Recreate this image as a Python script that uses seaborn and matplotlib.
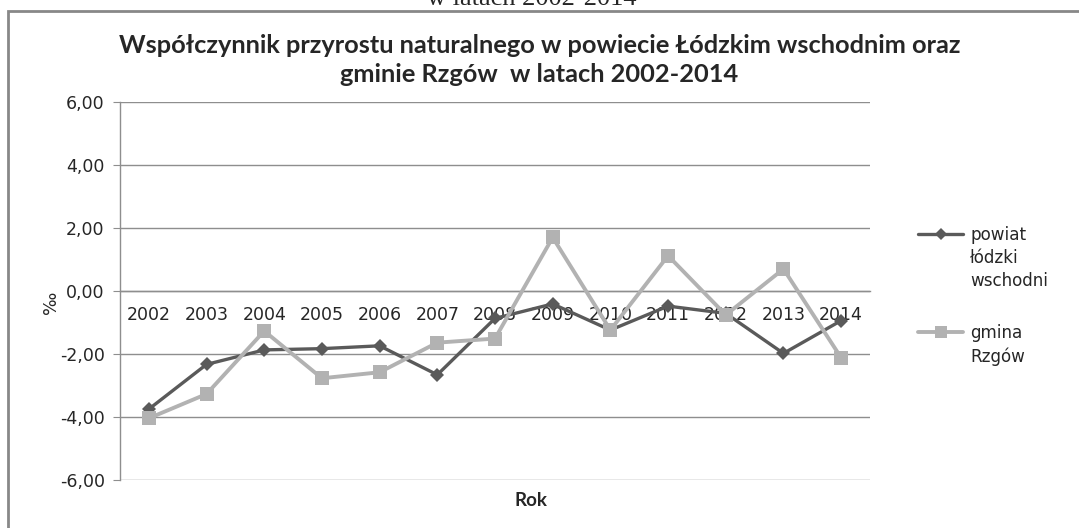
import pandas as pd
import matplotlib
matplotlib.use('Agg')
import matplotlib.pyplot as plt
import seaborn as sns
from matplotlib.lines import Line2D
from matplotlib.patches import Rectangle

# --- dane ---
lata = ['2002', '2003', '2004', '2005', '2006', '2007', '2008',
        '2009', '2010', '2011', '2012', '2013', '2014']
powiat = [-3.75, -2.33, -1.87, -1.83, -1.74, -2.66, -0.87,
          -0.41, -1.24, -0.48, -0.71, -1.98, -0.94]
gmina = [-4.04, -3.27, -1.27, -2.77, -2.58, -1.64, -1.51,
         1.70, -1.24, 1.12, -0.76, 0.70, -2.12]
serie = ['powiat łódzki wschodni', 'gmina Rzgów']
y_ticks = [-6, -4, -2, 0, 2, 4, 6]

df = pd.DataFrame({
    'Rok': lata * 2,
    'wartosc': powiat + gmina,
    'seria': [serie[0]] * len(lata) + [serie[1]] * len(lata),
})

sns.set_style("white")
plt.rcParams['font.family'] = ['DejaVu Sans']

ciemny = '#5a5a5a'
jasny = '#b2b2b2'
siatka = '#8e8e8e'

fig = plt.figure(figsize=(10.79, 5.28), dpi=100)
ax = fig.add_axes([120 / 1079, 1 - 480 / 528, 750 / 1079, 378 / 528])

sns.lineplot(data=df, x='Rok', y='wartosc', hue='seria', style='seria',
             palette={serie[0]: ciemny, serie[1]: jasny},
             markers={serie[0]: 'D', serie[1]: 's'}, dashes=False,
             sort=False, ax=ax, legend=False)
for ln, lw, ms in zip(ax.lines, [2.4, 2.8], [7.5, 10.5]):
    ln.set_linewidth(lw)
    ln.set_markersize(ms)
    ln.set_markeredgewidth(0)
# gmina na wierzchu jak w oryginale
ax.lines[1].set_zorder(3)
ax.lines[0].set_zorder(2)

ax.set_xlim(-0.5, len(lata) - 0.5)
ax.set_ylim(-6, 6)
ax.set_yticks(y_ticks)
ax.set_yticklabels([f'{v:.2f}'.replace('.', ',') for v in y_ticks])
ax.yaxis.grid(True, color=siatka, linewidth=1)
ax.set_axisbelow(True)

for s in ['top', 'right']:
    ax.spines[s].set_visible(False)
ax.spines['left'].set_color(siatka)
ax.spines['left'].set_linewidth(1)
ax.spines['bottom'].set_position(('data', 0))
ax.spines['bottom'].set_color(siatka)
ax.spines['bottom'].set_linewidth(1)

ax.tick_params(axis='y', direction='out', length=5, color=siatka,
               labelsize=12.5, pad=6, left=True)
ax.tick_params(axis='x', length=0, labelsize=12.5, pad=11)

ax.set_xlabel('')
ax.set_ylabel('‰', fontsize=12.5)
ax.yaxis.set_label_coords(-0.08, 0.47)

fig.text(0.492, 0.052, 'Rok', ha='center', va='center', fontsize=13.5,
         fontweight='bold', family='Lato')

fig.text(0.5, 0.886,
         'Współczynnik przyrostu naturalnego w powiecie Łódzkim wschodnim oraz\n'
         'gminie Rzgów  w latach 2002-2014',
         ha='center', va='center', fontsize=18.3, fontweight='bold',
         family='Lato', linespacing=1.3)

# ucięty podpis nad ramką
fig.text(532 / 1079, 1 - 5 / 528, 'w latach 2002-2014', ha='center',
         va='baseline', fontsize=19, family='Liberation Serif')

# ramka wykresu
fig.patches.append(Rectangle((8 / 1079, -0.05), 1.2, 1 - 11 / 528 + 0.05,
                             transform=fig.transFigure, fill=False,
                             edgecolor='#888888', linewidth=2))

# legenda
pusty = Line2D([], [], color='none')
uchwyty = [
    Line2D([], [], color=ciemny, lw=2.4, marker='D', markersize=6, markeredgewidth=0),
    pusty, pusty, pusty,
    Line2D([], [], color=jasny, lw=2.8, marker='s', markersize=9, markeredgewidth=0),
    pusty,
]
etykiety = ['powiat', 'łódzki', 'wschodni', ' ', 'gmina', 'Rzgów']
leg = fig.legend(uchwyty, etykiety, loc='upper left',
                 bbox_to_anchor=(918 / 1079, 1 - 226 / 528), frameon=False,
                 fontsize=12.1, handlelength=2.7, handletextpad=0.4,
                 labelspacing=0.3, borderpad=0, borderaxespad=0)
leg.get_texts()[3].set_fontsize(17)

fig.savefig('out.png', dpi=100)
